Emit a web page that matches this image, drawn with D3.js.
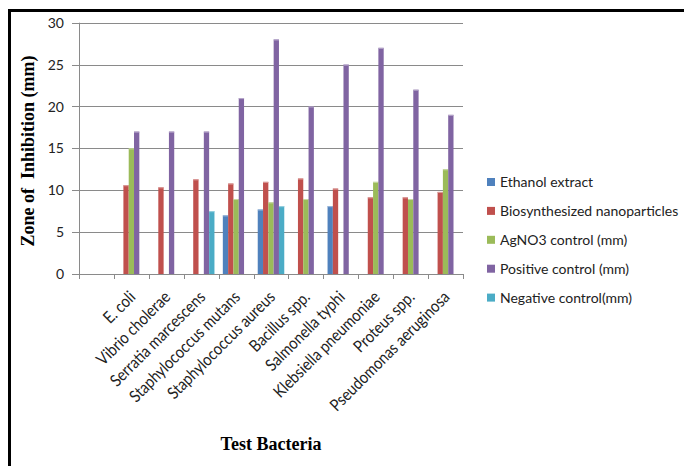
<!DOCTYPE html>
<html><head><meta charset="utf-8">
<script src="https://cdn.jsdelivr.net/npm/d3@7"></script>
<style>
html,body{margin:0;padding:0;background:#fff;}
svg{display:block;}
</style></head>
<body>
<script>
const categories = ["", "E. coli", "Vibrio cholerae", "Serratia marcescens", "Staphylococcus mutans", "Staphylococcus aureus", "Bacillus spp.", "Salmonella typhi", "Klebsiella pneumoniae", "Proteus spp.", "Pseudomonas aeruginosa"];
const seriesNames = ["Ethanol extract", "Biosynthesized nanoparticles", "AgNO3 control (mm)", "Positive control (mm)", "Negative control(mm)"];
const ethanol   = [null, null, null, null, 7.0, 7.7, null, 8.1, null, null, null];
const nano      = [null, 10.6, 10.35, 11.3, 10.8, 11.0, 11.4, 10.2, 9.15, 9.15, 9.8];
const agno3     = [null, 15.0, null, null, 8.95, 8.55, 8.95, null, 11.0, 8.95, 12.5];
const positive  = [null, 17, 17, 17, 21, 28, 20, 25, 27, 22, 19];
const negative  = [null, null, null, 7.5, null, 8.1, null, null, null, null, null];
const yTicks = [0, 5, 10, 15, 20, 25, 30];
const colors = ["#4F81BD", "#C0504D", "#9BBB59", "#8064A2", "#4BACC6"];

(function () {
const seriesValues = [ethanol, nano, agno3, positive, negative];
const W = 684, H = 466;
const svg = d3.select("body").append("svg").attr("width", W).attr("height", H);

svg.append("rect").attr("x", 8).attr("y", 9).attr("width", W - 8).attr("height", 3).attr("fill", "#000");
svg.append("rect").attr("x", 8).attr("y", 9).attr("width", 3).attr("height", H - 9).attr("fill", "#000");

const pl = 79, pr = 463, pt = 22.7, pb = 274;
const x0 = d3.scaleBand().domain(d3.range(categories.length)).range([pl, pr]).paddingInner(0.24).paddingOuter(0.12);
const x1 = d3.scaleBand().domain(d3.range(seriesNames.length)).range([0, x0.bandwidth()]);
const y = d3.scaleLinear().domain([0, 30]).range([pb, pt]);
const step = (pr - pl) / categories.length;

const g = svg.append("g");
g.selectAll("line.grid").data(yTicks).join("line")
  .attr("x1", pl - 7).attr("x2", pr)
  .attr("y1", d => Math.round(y(d)) + 0.5).attr("y2", d => Math.round(y(d)) + 0.5)
  .attr("stroke", "#8a8a8a").attr("stroke-width", 1);
g.append("line").attr("x1", pl + 0.5).attr("x2", pl + 0.5).attr("y1", pt).attr("y2", pb + 5)
  .attr("stroke", "#8a8a8a");
g.selectAll("line.xt").data(d3.range(categories.length + 1)).join("line")
  .attr("x1", d => Math.round(pl + d * step) + 0.5).attr("x2", d => Math.round(pl + d * step) + 0.5)
  .attr("y1", pb).attr("y2", pb + 5).attr("stroke", "#8a8a8a");

g.selectAll("text.yt").data(yTicks).join("text")
  .attr("x", 64).attr("y", d => y(d)).attr("dy", "0.36em")
  .attr("text-anchor", "end").attr("font-family", "Lato, 'Open Sans', sans-serif").attr("font-size", 14)
  .attr("fill", "#222").text(d => d);

const lighten = c => d3.interpolateRgb(c, "#fff")(0.45);
seriesValues.forEach((vals, si) => {
  const sg = svg.append("g");
  const data = vals.map((v, i) => ({v, i})).filter(d => d.v != null);
  sg.selectAll("rect.bar").data(data).join("rect")
    .attr("x", d => x0(d.i) + x1(si)).attr("width", x1.bandwidth())
    .attr("y", d => y(d.v)).attr("height", d => y(0) - y(d.v))
    .attr("fill", colors[si]);
  sg.selectAll("rect.cap").data(data).join("rect")
    .attr("x", d => x0(d.i) + x1(si)).attr("width", x1.bandwidth())
    .attr("y", d => y(d.v)).attr("height", 1)
    .attr("fill", lighten(colors[si]));
});

g.selectAll("text.xl").data(categories.map((c, i) => ({c, i})).filter(d => d.c)).join("text")
  .attr("transform", d => `translate(${x0(d.i) + x0.bandwidth() / 2 + 1},${pb + 20}) rotate(-45) scale(1,1.15)`)
  .attr("text-anchor", "end").attr("dy", "0.35em")
  .attr("font-family", "Lato, 'Open Sans', sans-serif").attr("font-size", 14.5).attr("fill", "#222")
  .text(d => d.c);

svg.append("text").attr("transform", "translate(34,151) rotate(-90)")
  .attr("text-anchor", "middle").attr("font-family", "'Liberation Serif', 'Times New Roman', serif")
  .attr("font-weight", "bold").attr("font-size", 18).style("white-space", "pre")
  .text("Zone of  Inhibition (mm)");
svg.append("text").attr("x", 271).attr("y", 450)
  .attr("text-anchor", "middle").attr("font-family", "'Liberation Serif', 'Times New Roman', serif")
  .attr("font-weight", "bold").attr("font-size", 18)
  .text("Test Bacteria");

const lg = svg.append("g").attr("transform", "translate(487,182)");
const items = lg.selectAll("g").data(seriesNames).join("g")
  .attr("transform", (d, i) => `translate(0,${i * 28.9})`);
items.append("rect").attr("x", 0).attr("y", -4).attr("width", 8).attr("height", 8)
  .attr("fill", (d, i) => colors[i]);
items.append("text").attr("x", 13).attr("y", 0).attr("dy", "0.35em")
  .attr("font-family", "Lato, 'Open Sans', sans-serif").attr("font-size", 14).attr("fill", "#222")
  .text(d => d);
})();
</script>
</body></html>
